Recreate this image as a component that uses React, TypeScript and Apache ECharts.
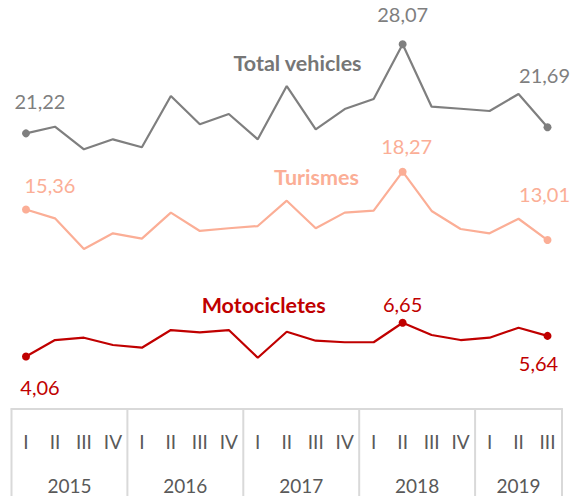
import React, { useEffect, useRef } from "react";
import * as echarts from "echarts";

const quarters = ["I", "II", "III", "IV", "I", "II", "III", "IV", "I", "II", "III", "IV", "I", "II", "III", "IV", "I", "II", "III"];
const years = ["2015", "2016", "2017", "2018", "2019"];
const quartersPerYear = [4, 4, 4, 4, 3];
const totalVehicles = [21.22, 21.73, 19.99, 20.76, 20.15, 24.09, 21.92, 22.71, 20.76, 24.86, 21.53, 23.09, 23.86, 28.07, 23.27, 23.11, 22.94, 24.25, 21.69];
const turismes = [15.36, 14.68, 12.32, 13.53, 13.12, 15.12, 13.71, 13.92, 14.09, 16.04, 13.92, 15.12, 15.27, 18.27, 15.25, 13.86, 13.53, 14.65, 13.01];
const motocicletes = [4.06, 5.32, 5.5, 4.94, 4.73, 6.09, 5.91, 6.09, 3.96, 5.96, 5.27, 5.15, 5.15, 6.65, 5.71, 5.32, 5.5, 6.27, 5.64];
const seriesNames = ["Total vehicles", "Turismes", "Motocicletes"];

const FONT = "Lato, 'Open Sans', sans-serif";
const GRAY = "#7f7f7f";
const SALMON = "#fbae96";
const RED = "#c00000";
const BOX = "#d9d9d9";

const fmt = (v: number) => v.toFixed(2).replace(".", ",");

type LabelPos = { position: "top" | "bottom"; offset: [number, number] };

function buildSeries(name: string, values: number[], color: string, pos: { first: LabelPos; max: LabelPos; last: LabelPos }) {
  const maxIdx = values.indexOf(Math.max(...values));
  const lastIdx = values.length - 1;
  const marked = [0, maxIdx, lastIdx];
  const data = values.map((v, i) => {
    let lp: LabelPos | null = null;
    if (i === 0) lp = pos.first;
    else if (i === maxIdx) lp = pos.max;
    else if (i === lastIdx) lp = pos.last;
    if (!lp) return { value: v };
    return {
      value: v,
      label: {
        show: true,
        position: lp.position,
        offset: lp.offset,
        formatter: (p: any) => fmt(p.value),
        color,
        fontFamily: FONT,
        fontSize: 20,
        lineHeight: 20,
      },
    };
  });
  return {
    name,
    type: "line",
    data,
    showAllSymbol: true,
    symbol: (_v: any, params: any) => (marked.includes(params.dataIndex) ? "circle" : "none"),
    symbolSize: 8,
    itemStyle: { color },
    lineStyle: { color, width: 2.2 },
    label: { show: false },
    emphasis: { disabled: true },
    z: 3,
  };
}

export default function App() {
  const ref = useRef<HTMLDivElement>(null);
  useEffect(() => {
    document.body.style.margin = "0";
    if (!ref.current) return;
    const chart = echarts.init(ref.current, null, { renderer: "svg" });
    const option: any = {
      animation: false,
      grid: { left: 11.5, right: 12, top: 19.2, bottom: 86.8, containLabel: false },
      xAxis: {
        type: "category",
        data: quarters,
        boundaryGap: true,
        axisLine: { show: true, lineStyle: { color: BOX, width: 2 } },
        axisTick: { show: false },
        axisLabel: {
          color: "#595959",
          fontFamily: FONT,
          fontSize: 19,
          lineHeight: 20,
          margin: 22,
          interval: 0,
        },
        splitLine: { show: false },
      },
      yAxis: {
        type: "value",
        min: 0,
        max: 30,
        show: false,
        splitLine: { show: false },
      },
      series: [
        buildSeries(seriesNames[0], totalVehicles, GRAY, {
          first: { position: "top", offset: [14, -13] },
          max: { position: "top", offset: [0, -11] },
          last: { position: "top", offset: [-3, -33] },
        }),
        buildSeries(seriesNames[1], turismes, SALMON, {
          first: { position: "top", offset: [24, -6] },
          max: { position: "top", offset: [4, -7] },
          last: { position: "top", offset: [-3, -27] },
        }),
        buildSeries(seriesNames[2], motocicletes, RED, {
          first: { position: "bottom", offset: [14, 12] },
          max: { position: "top", offset: [0, 0] },
          last: { position: "bottom", offset: [-9, 8] },
        }),
      ],
    };
    chart.setOption(option);

    const px = (i: number) => chart.convertToPixel({ xAxisIndex: 0 }, i) as number;
    const band = px(1) - px(0);
    const y0 = chart.convertToPixel({ yAxisIndex: 0 }, 0) as number;
    const bounds: number[] = [px(0) - band / 2];
    let idx = 0;
    quartersPerYear.forEach((n) => {
      idx += n;
      bounds.push(px(idx - 1) + band / 2);
    });
    const graphics: any[] = [];
    bounds.forEach((b) => {
      graphics.push({
        type: "line",
        shape: { x1: b, y1: y0 - 1, x2: b, y2: 520 },
        style: { stroke: BOX, lineWidth: 2 },
        silent: true,
      });
    });
    years.forEach((y, i) => {
      graphics.push({
        type: "text",
        x: (bounds[i] + bounds[i + 1]) / 2,
        y: 485,
        style: {
          text: y,
          fill: "#595959",
          font: `19px ${FONT}`,
          align: "center",
          verticalAlign: "middle",
        },
        silent: true,
      });
    });
    const nameLabels: [string, number, number, string][] = [
      [seriesNames[0], 297.5, 63.3, "#767676"],
      [seriesNames[1], 316.5, 176.7, SALMON],
      [seriesNames[2], 263.7, 305, RED],
    ];
    nameLabels.forEach(([t, x, y, c]) => {
      graphics.push({
        type: "text",
        x,
        y,
        style: {
          text: t,
          fill: c,
          font: `bold 21.5px ${FONT}`,
          align: "center",
          verticalAlign: "middle",
        },
        silent: true,
      });
    });
    chart.setOption({ graphic: graphics });
    return () => chart.dispose();
  }, []);
  return <div ref={ref} style={{ width: 574, height: 496 }} />;
}
